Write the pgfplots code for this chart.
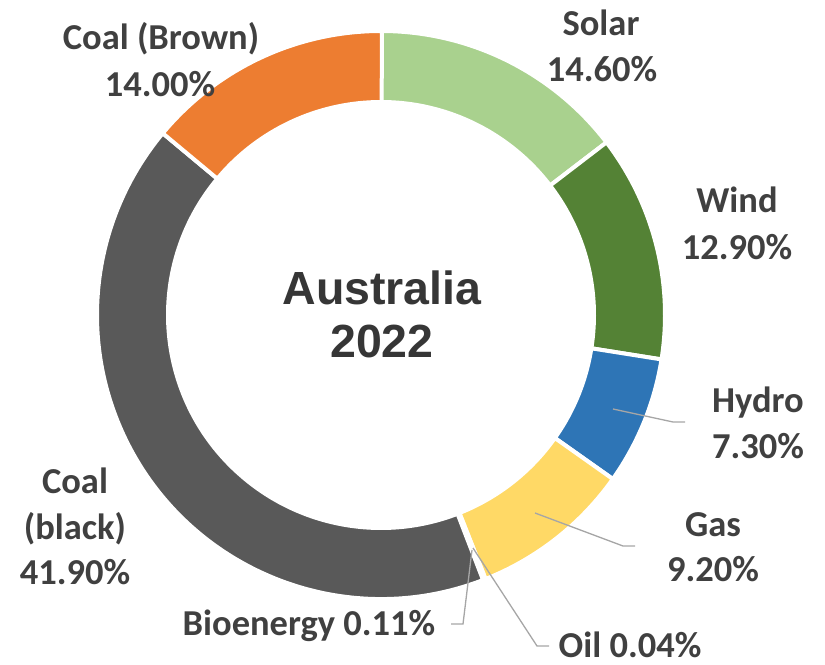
\documentclass[border=0pt]{standalone}
\usepackage{pgfplots}
\pgfplotsset{compat=1.18}
\usepackage{pgfplotstable}
\usetikzlibrary{calc}
\usepackage{fontspec}
\setmainfont{Carlito}
\newfontfamily\arialf{Liberation Sans}
\definecolor{csolar}{HTML}{A9D18E}
\definecolor{cwind}{HTML}{548235}
\definecolor{chydro}{HTML}{2E75B6}
\definecolor{cgas}{HTML}{FFD966}
\definecolor{coil}{HTML}{A5A5A5}
\definecolor{cbio}{HTML}{70AD47}
\definecolor{cblack}{HTML}{595959}
\definecolor{cbrown}{HTML}{ED7D31}
\definecolor{txt}{HTML}{404040}
\definecolor{ctitle}{HTML}{363636}
\definecolor{leader}{HTML}{A6A6A6}
\tikzset{
  lbl/.style={anchor=base, text=txt, inner sep=0pt, font=\bfseries\fontsize{36.5bp}{44bp}\selectfont},
  ttl/.style={anchor=base, text=ctitle, inner sep=0pt, font=\arialf\bfseries\fontsize{46.5bp}{54bp}\selectfont},
}
\pgfplotstableread[col sep=comma]{
name,value,color
Solar,14.6,csolar
Wind,12.9,cwind
Hydro,7.3,chydro
Gas,9.2,cgas
Oil,0.04,coil
Bioenergy,0.11,cbio
Coal (black),41.9,cblack
Coal (Brown),14.0,cbrown
}\energy
\begin{document}
\begin{tikzpicture}
\begin{axis}[
  scale only axis, width=825bp, height=665bp,
  xmin=0, xmax=825, ymin=0, ymax=665,
  hide axis, clip=false,
]
\pgfplotsextra{
  \path (axis cs:0,0) rectangle (axis cs:825,665);
  \coordinate (C) at (axis cs:381,350);
  \pgfplotstablegetrowsof{\energy}
  \pgfmathtruncatemacro\nrows{\pgfplotsretval-1}
  \gdef\cum{0}
  \foreach \i in {0,...,\nrows}{
    \pgfplotstablegetelem{\i}{value}\of\energy \let\v\pgfplotsretval
    \pgfplotstablegetelem{\i}{color}\of\energy \let\c\pgfplotsretval
    \pgfmathsetmacro\a{90-3.6*\cum}
    \pgfmathsetmacro\b{90-3.6*(\cum+\v)}
    \fill[fill=\c, draw=white, line width=4bp, line join=miter]
      ($(C)+(\a:284bp)$) arc[start angle=\a, end angle=\b, radius=284bp]
      -- ($(C)+(\b:213bp)$) arc[start angle=\b, end angle=\a, radius=213bp] -- cycle;
    \pgfmathsetmacro\n{\cum+\v}\xdef\cum{\n}
  }
}
% leader lines
\addplot[leader, line width=1.3bp, no marks] coordinates {(613,256) (673,243) (685,243)};
\addplot[leader, line width=1.3bp, no marks] coordinates {(535,152) (623,119) (635,119)};
\addplot[leader, line width=1.3bp, no marks] coordinates {(472,115) (463,41) (451,41)};
\addplot[leader, line width=1.3bp, no marks] coordinates {(473,117) (537,19) (549,19)};
% labels
\node[lbl] at (axis cs:601,629) {Solar};
\node[lbl] at (axis cs:602,583) {14.60\%};
\node[lbl] at (axis cs:737,452) {Wind};
\node[lbl] at (axis cs:737,405) {12.90\%};
\node[lbl] at (axis cs:758,252) {Hydro};
\node[lbl] at (axis cs:758,206) {7.30\%};
\node[lbl] at (axis cs:713,128) {Gas};
\node[lbl] at (axis cs:713,83) {9.20\%};
\node[lbl] at (axis cs:630,8) {Oil 0.04\%};
\node[lbl] at (axis cs:309,30) {Bioenergy 0.11\%};
\node[lbl] at (axis cs:75,171) {Coal};
\node[lbl] at (axis cs:75,125) {(black)};
\node[lbl] at (axis cs:75,80) {41.90\%};
\node[lbl] at (axis cs:161,615) {Coal (Brown)};
\node[lbl] at (axis cs:160,568) {14.00\%};
\node[ttl] at (axis cs:382,360) {Australia};
\node[ttl] at (axis cs:382,307) {2022};
\end{axis}
\end{tikzpicture}
\end{document}
